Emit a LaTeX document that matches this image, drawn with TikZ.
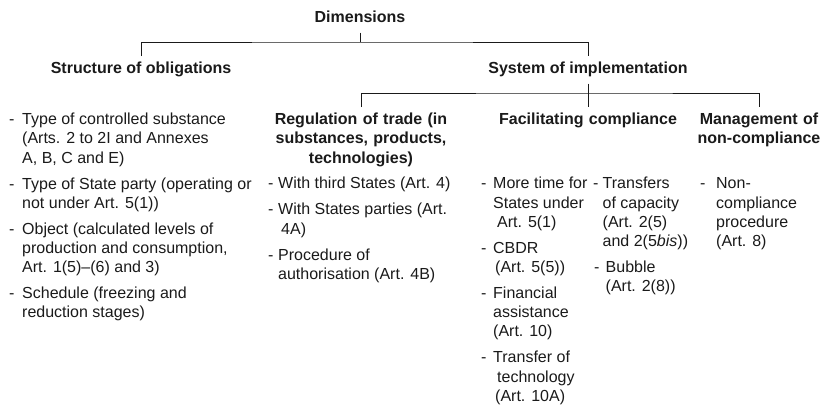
\documentclass[tikz,border=0pt]{standalone}
\usepackage{fontspec}
\setmainfont{Liberation Sans}
\usepackage{xcolor}
\usepackage{tikz}
\usetikzlibrary{positioning}
\definecolor{ink}{HTML}{1A1A1A}
\newcommand{\bodysize}{\fontsize{16}{19.2}\selectfont}
\newcommand{\artlist}[2]{\begin{tabular}{@{}p{#1}@{}l@{}}#2\end{tabular}}

\tikzset{
  head/.style={font=\bodysize\bfseries, inner xsep=0pt, inner ysep=4pt},
  subhead/.style={font=\bodysize\bfseries, anchor=north, align=center, text width=#1,
                  inner xsep=0pt, inner ysep=6pt},
  entries/.style={font=\bodysize, anchor=north west, inner sep=0pt},
  branch/.style={draw=ink, line width=0.9pt}
}

\begin{document}
\begin{tikzpicture}[x=1pt, y=-1pt, text=ink]
  \useasboundingbox (0,0) rectangle (822,410);
  % top of the tree
  \node[head, anchor=base] (dim) at (360,22.7) {\strut Dimensions};
  \node[head, anchor=base] (struct) at (141,73.7) {\strut Structure of obligations};
  \node[head, anchor=base] (sys) at (588,73.7) {\strut System of implementation};
  % implementation branches
  \node[subhead=190pt] (reg) at (361,107) {Regulation of trade (in\\ substances, products,\\ technologies)};
  \node[subhead=180pt] (fac) at (588,107) {Facilitating compliance};
  \node[subhead=130pt] (mgmt) at (759,107) {Management of\\ non-compliance};

  \coordinate (topbar) at (360,42);
  \coordinate (implbar) at (588,93);
  \draw[branch] (dim) -- (topbar);
  \draw[branch] (struct.north) |- (topbar) -| (sys.north);
  \draw[branch] (sys) -- (fac);
  \draw[branch] (reg.north) |- (implbar) -| (mgmt.north);

  % lists of provisions
  \node[entries] (structlist) at (9,111) {\artlist{13pt}{
    - & Type of controlled substance\\
      & (Arts. 2 to 2I and Annexes\\
      & A, B, C and E)\\[6.8pt]
    - & Type of State party (operating or\\
      & not under Art. 5(1))\\[6.8pt]
    - & Object (calculated levels of\\
      & production and consumption,\\
      & Art. 1(5)–(6) and 3)\\[6.8pt]
    - & Schedule (freezing and\\
      & reduction stages)}};
  \node[entries] (reglist) at (268,175.3) {\artlist{10pt}{
    - & With third States (Art. 4)\\[6.8pt]
    - & With States parties (Art.\\
      & \hspace{3pt}4A)\\[6.8pt]
    - & Procedure of\\
      & authorisation (Art. 4B)}};
  \node[entries] (faclistA) at (481,175.3) {\artlist{12pt}{
    - & More time for\\
      & States under\\
      & \hspace{4pt}Art. 5(1)\\[6.8pt]
    - & CBDR\\
      & \hspace{2pt}(Art. 5(5))\\[6.8pt]
    - & Financial\\
      & assistance\\
      & (Art. 10)\\[6.8pt]
    - & Transfer of\\
      & \hspace{4pt}technology\\
      & \hspace{2pt}(Art. 10A)}};
  \node[entries] (faclistB) at (593,175.3) {\artlist{9.5pt}{
    - & Transfers\\
      & of capacity\\
      & (Art. 2(5)\\
      & and 2(5\textit{bis}))\\[6.8pt]
    \hspace{1pt}- & \hspace{3pt}Bubble\\
      & \hspace{3pt}(Art. 2(8))}};
  \node[entries] (mgmtlist) at (700,175.3) {\artlist{16pt}{
    - & Non-\\
      & compliance\\
      & procedure\\
      & (Art. 8)}};
\end{tikzpicture}
\end{document}
